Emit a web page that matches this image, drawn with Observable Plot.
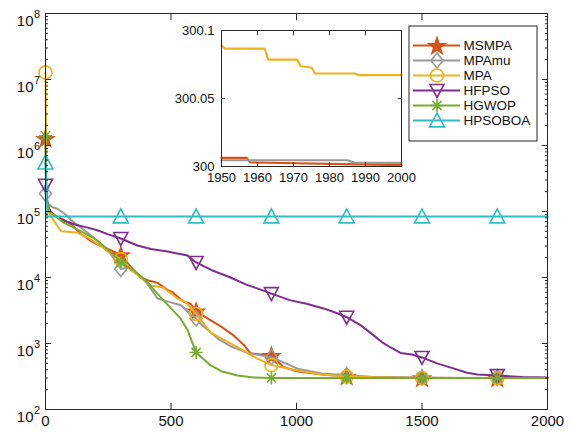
<!DOCTYPE html>
<html><head><meta charset="utf-8">
<script src="https://cdn.jsdelivr.net/npm/d3@7"></script>
<script src="https://cdn.jsdelivr.net/npm/@observablehq/plot@0.6"></script>
<style>
body{margin:0;background:#fff}
#wrap{position:relative;width:571px;height:438px;overflow:hidden}
#wrap svg{position:absolute;overflow:visible}
</style></head><body><div id="wrap"></div>
<script>
const FONT = '"Liberation Sans", Arial, Helvetica, sans-serif';
const names = ["MSMPA", "MPAmu", "MPA", "HFPSO", "HGWOP", "HPSOBOA"];
const colors = ["#D95319", "#999999", "#EDB120", "#7E2F8E", "#77AC30", "#30BEC4"];

const msmpaX = [0,3,8,20,50,72,100,140,179,220,260,300,340,378,410,446,486,506,550,578,600,645,700,749,790,817,860,900,948,1000,1100,1200,1300,1400,1500,1650,1800,1950,1957,1958,2000];
const msmpaY = [1.28e6,1.5e5,1.1e5,9.5e4,8.2e4,7.5e4,6.5e4,4.6e4,3.6e4,3.0e4,2.6e4,2.2e4,1.45e4,1.0e4,9.0e3,8.3e3,6.5e3,6.0e3,4.3e3,4.0e3,3.1e3,2.4e3,1.8e3,1.33e3,9.5e2,7.1e2,6.8e2,6.6e2,4.4e2,3.8e2,3.4e2,3.2e2,3.1e2,3.05e2,3.02e2,300.5,300.2,300.0063,300.0063,300.003,300.001];

const mpamuX = [0,10,30,48,80,110,139,179,210,247,270,300,330,370,406,446,498,540,580,600,618,685,740,805,860,900,1004,1100,1200,1300,1500,1800,1950,1985,1987,2000];
const mpamuY = [1.86e5,1.3e5,1.15e5,1.1e5,9e4,7e4,5.8e4,4.4e4,3.5e4,2.6e4,2.0e4,1.35e4,1.4e4,1.1e4,8e3,4.8e3,4.2e3,3.8e3,2.7e3,2.4e3,2.0e3,1.2e3,9e2,7.2e2,6.6e2,6.2e2,4.15e2,3.5e2,3.3e2,3.1e2,3.02e2,300.05,300.0046,300.0046,300.0027,300.0027];

const mpaX = [0,4,10,30,63,100,127,170,220,260,300,340,380,418,470,526,560,600,657,700,777,840,900,1004,1100,1200,1350,1500,1800,1950,1951,1962,1963,1971,1972,1975,1976,1987,1988,2000];
const mpaY = [1.28e7,2e5,1.0e5,7.5e4,5.0e4,4.9e4,4.8e4,4.0e4,3.0e4,2.3e4,1.9e4,1.3e4,1.0e4,7.6e3,7.0e3,4.8e3,4.2e3,2.8e3,1.48e3,1.2e3,8.3e2,6.0e2,4.7e2,3.9e2,3.4e2,3.15e2,3.05e2,300.5,300.15,300.089,300.0866,300.0866,300.0786,300.0786,300.0737,300.0728,300.0684,300.0684,300.0672,300.0672];

const hfpsoX = [0,8,20,40,72,120,160,207,250,300,366,420,480,566,600,660,737,800,860,900,976,1040,1108,1160,1200,1255,1300,1340,1375,1414,1460,1500,1560,1625,1680,1721,1800,1900,2000];
const hfpsoY = [2.5e5,1.3e5,1.0e5,8.5e4,7.3e4,6.3e4,5.8e4,5.2e4,4.5e4,3.9e4,3.05e4,2.7e4,2.5e4,2.15e4,1.69e4,1.3e4,1.0e4,7.8e3,6.5e3,5.7e3,4.5e3,4.0e3,3.4e3,2.9e3,2.5e3,1.9e3,1.4e3,1.05e3,8.7e2,7.2e2,6.8e2,6.15e2,5.0e2,4.2e2,3.6e2,3.4e2,3.27e2,3.1e2,3.05e2];

const hgwopX = [0,4,15,40,72,110,151,190,219,260,300,350,390,418,470,538,566,600,657,700,765,830,900,1200,1500,1800,2000];
const hgwopY = [1.4e6,1.5e5,1.0e5,8.5e4,6.8e4,5.8e4,4.8e4,4.0e4,3.3e4,2.4e4,1.7e4,1.3e4,9.7e3,7.5e3,4.5e3,2.4e3,1.6e3,7.3e2,4.7e2,3.8e2,3.27e2,3.05e2,300.5,300.05,300.01,300.003,300.0];

const hpsoboaX = [0,5,300,600,900,1200,1500,1800,2000];
const hpsoboaY = [5.5e5,8.4e4,8.4e4,8.4e4,8.4e4,8.4e4,8.4e4,8.4e4,8.4e4];

const xTicks = [0, 500, 1000, 1500, 2000];
const yMajor = [1e2, 1e3, 1e4, 1e5, 1e6, 1e7, 1e8];
const yMinor = [2,3,4,5,6,7,8,9].flatMap(m => [1e2,1e3,1e4,1e5,1e6,1e7].map(p => m * p));
const insetXTicks = [1950, 1960, 1970, 1980, 1990, 2000];
const insetYTicks = [300, 300.05, 300.1];
const insetYLabels = ["300", "300.05", "300.1"];
const markerStep = 300;

// marker shapes (MATLAB-like)
const pentagram = {draw(c, size) {
  const R = Math.sqrt(size / Math.PI), r = R * 0.40;
  for (let i = 0; i < 10; i++) {
    const a = -Math.PI / 2 + i * Math.PI / 5, rr = i % 2 ? r : R;
    const px = rr * Math.cos(a), py = rr * Math.sin(a) + R * 0.1;
    i ? c.lineTo(px, py) : c.moveTo(px, py);
  }
  c.closePath();
}};
const diamond = {draw(c, size) {
  const R = Math.sqrt(size / Math.PI);
  c.moveTo(0, -R); c.lineTo(0.8 * R, 0); c.lineTo(0, R); c.lineTo(-0.8 * R, 0); c.closePath();
}};
const circle = {draw(c, size) {
  const R = Math.sqrt(size / Math.PI);
  c.moveTo(R, 0); c.arc(0, 0, R, 0, 2 * Math.PI); c.closePath();
}};
const triDown = {draw(c, size) {
  const R = Math.sqrt(size / Math.PI);
  c.moveTo(-R, -0.85 * R); c.lineTo(R, -0.85 * R); c.lineTo(0, R); c.closePath();
}};
const triUp = {draw(c, size) {
  const R = Math.sqrt(size / Math.PI);
  c.moveTo(-R, 0.85 * R); c.lineTo(R, 0.85 * R); c.lineTo(0, -R); c.closePath();
}};
const aster = {draw(c, size) {
  const R = Math.sqrt(size / Math.PI);
  for (let k = 0; k < 4; k++) {
    const a = k * Math.PI / 4;
    c.moveTo(R * Math.cos(a), R * Math.sin(a));
    c.lineTo(-R * Math.cos(a), -R * Math.sin(a));
  }
}};

const xs = [msmpaX, mpamuX, mpaX, hfpsoX, hgwopX, hpsoboaX];
const ys = [msmpaY, mpamuY, mpaY, hfpsoY, hgwopY, hpsoboaY];
const symbols = [pentagram, diamond, circle, triDown, aster, triUp];
const radii = [8.5, 7.5, 6.5, 7, 6.5, 7.5];
const filled = [true, false, false, false, false, false];

const series = names.map((name, i) => ({
  name, color: colors[i], symbol: symbols[i], r: radii[i], filled: filled[i],
  data: xs[i].map((x, j) => ({x, y: ys[i][j]}))
}));

const axisColor = "#262626";
const wrap = document.getElementById("wrap");

// inward tick helpers: positive tick length, shifted inside the frame by the same amount
const inX = (ticks, anchor, len) => Plot.axisX(ticks, {anchor, tickSize: len, dy: anchor === "bottom" ? -len : len, label: null, tickFormat: () => "", stroke: axisColor});
const inY = (ticks, anchor, len) => Plot.axisY(ticks, {anchor, tickSize: len, dx: anchor === "left" ? len : -len, label: null, tickFormat: () => "", stroke: axisColor});

const seriesMarks = series.flatMap(s => [
  Plot.line(s.data, {x: "x", y: "y", stroke: s.color, strokeWidth: 2}),
  Plot.dot(s.data.filter(d => d.x % markerStep === 0 && d.x < 2000), {
    x: "x", y: "y", symbol: s.symbol, r: s.r, stroke: s.color,
    fill: s.filled ? s.color : "none", strokeWidth: 1.6
  })
]);

const main = Plot.plot({
  width: 571, height: 438,
  marginLeft: 45, marginRight: 24, marginTop: 13, marginBottom: 29,
  style: {fontFamily: FONT, fontSize: "15px", color: axisColor, background: "transparent"},
  x: {domain: [0, 2000]},
  y: {type: "log", domain: [1e2, 1e8]},
  marks: [
    ...seriesMarks,
    Plot.axisX(xTicks, {anchor: "bottom", tickSize: 0, tickPadding: 6, label: null, tickFormat: d => String(d), fill: "#111"}),
    inX(xTicks, "bottom", 6),
    inX(xTicks, "top", 6),
    inY(yMajor, "left", 6),
    inY(yMinor, "left", 3),
    inY(yMajor, "right", 6),
    inY(yMinor, "right", 3),
    Plot.text(yMajor, {y: d => d, frameAnchor: "left", text: () => "10", textAnchor: "end", dx: -12, dy: 8, fontSize: 15, fill: "#111"}),
    Plot.text(yMajor, {y: d => d, frameAnchor: "left", text: d => String(Math.round(Math.log10(d))), textAnchor: "start", dx: -11.5, dy: 1, fontSize: 11, fill: "#111"}),
    Plot.frame({stroke: axisColor, strokeWidth: 1})
  ]
});
main.style.left = "0px"; main.style.top = "0px";
wrap.appendChild(main);

// inset
const insetSeries = series.filter(s => s.data.some(d => d.x >= 1950 && d.y >= 300 && d.y <= 300.1) && s.data.every(d => d.x < 1950 || (d.y >= 300 && d.y <= 300.1)) && s.name !== "HGWOP");
const inset = Plot.plot({
  width: 240, height: 164,
  marginLeft: 56, marginRight: 4, marginTop: 8, marginBottom: 20,
  style: {fontFamily: FONT, fontSize: "13px", color: axisColor, background: "transparent"},
  x: {domain: [1950, 2000]},
  y: {domain: [300, 300.1]},
  marks: [
    Plot.frame({fill: "white"}),
    ...insetSeries.map(s => Plot.line(s.data.filter(d => d.x >= 1950), {x: "x", y: "y", stroke: s.color, strokeWidth: 2.2})),
    Plot.axisX(insetXTicks, {anchor: "bottom", tickSize: 0, tickPadding: 6, label: null, tickFormat: d => String(d), fill: "#111"}),
    Plot.axisY(insetYTicks, {anchor: "left", tickSize: 0, tickPadding: 7, label: null, tickFormat: d => insetYLabels[insetYTicks.indexOf(d)], fill: "#111"}),
    inX(insetXTicks, "bottom", 4),
    inX(insetXTicks, "top", 4),
    inY(insetYTicks, "left", 4),
    inY(insetYTicks, "right", 4),
    Plot.frame({stroke: axisColor, strokeWidth: 1})
  ]
});
inset.style.left = "165px"; inset.style.top = "22px";
wrap.appendChild(inset);

// legend
const legend = Plot.plot({
  width: 129, height: 116, margin: 0,
  style: {fontFamily: FONT, fontSize: "13.5px", background: "white", overflow: "visible"},
  x: {domain: [0, 1], range: [5, 52], axis: null},
  y: {type: "point", domain: names, range: [12, 103], axis: null},
  marks: [
    Plot.frame({stroke: axisColor, strokeWidth: 1, inset: 0.5}),
    ...series.flatMap(s => [
      Plot.ruleY([s.name], {y: d => d, x1: 0, x2: 1, stroke: s.color, strokeWidth: 2}),
      Plot.dot([s.name], {x: 0.5, y: d => d, symbol: s.symbol, r: s.r, stroke: s.color, fill: s.filled ? s.color : "none", strokeWidth: 1.6})
    ]),
    Plot.text(names, {x: 1, y: d => d, text: d => d, textAnchor: "start", dx: 3, fill: "#111"})
  ]
});
legend.style.left = "408px"; legend.style.top = "25px";
wrap.appendChild(legend);
</script></body></html>
